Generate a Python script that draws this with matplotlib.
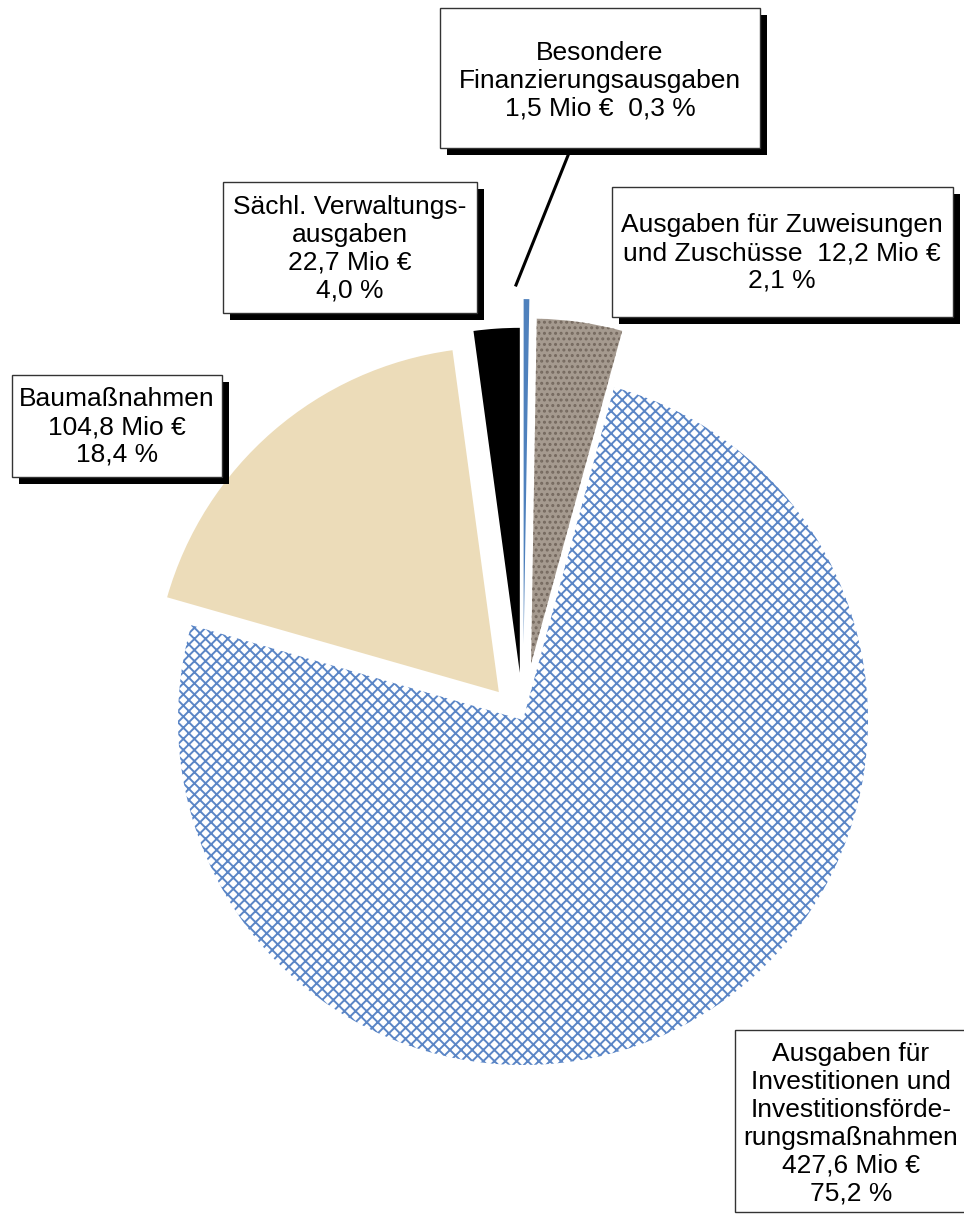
import matplotlib.pyplot as plt
from matplotlib.patches import Rectangle

plt.rcParams["font.family"] = ["Liberation Sans", "DejaVu Sans"]
plt.rcParams["hatch.linewidth"] = 1.4

W, H = 964, 1223
R = 345  # pie radius in pixels

# slices clockwise from 12 o'clock, as drawn in the picture
names = ["Besondere Finanzierungsausgaben", "Sächl. Verwaltungsausgaben",
         "Investitionen und Investitionsförderungsmaßnahmen", "Baumaßnahmen",
         "Zuweisungen und Zuschüsse"]
values = [1.5, 22.7, 427.6, 104.8, 12.2]
explode = [0.22, 0.165, 0.0, 0.107, 0.137]  # fraction of radius
colors = ["#4f81bd", "#a59a8f", "white", "#ecdcb9", "black"]
hatches = [None, "...", "xxx", None, None]
hatch_cols = ["#4f81bd", "#75695f", "#5b86c6", "#ecdcb9", "black"]

# label boxes: text, box (x0, y0, x1, y1) in pixels, text centre
box_texts = [
    "Besondere\nFinanzierungsausgaben\n1,5 Mio €  0,3 %",
    "Sächl. Verwaltungs-\nausgaben\n22,7 Mio €\n4,0 %",
    "Ausgaben für Zuweisungen\nund Zuschüsse  12,2 Mio €\n2,1 %",
    "Baumaßnahmen\n104,8 Mio €\n18,4 %",
    "Ausgaben für\nInvestitionen und\nInvestitionsförde-\nrungsmaßnahmen\n427,6 Mio €\n75,2 %",
]
box_pos = [(440, 8, 760, 148), (223, 182, 477, 313), (612, 187, 953, 317),
           (12, 375, 222, 477), (735, 1030, 970, 1212)]
text_pos = [(600, 81), (350, 249), (782, 253), (117, 427), (851, 1124)]
has_shadow = [True, True, True, True, False]

fig = plt.figure(figsize=(W / 100, H / 100), dpi=100)
ax = fig.add_axes([0, 0, 1, 1])

# y is inverted below, so startangle=-90 + counterclock gives clockwise from the top
wedges, _ = ax.pie(values, explode=[e * R for e in explode], colors=colors,
                   startangle=-90, counterclock=True, radius=R,
                   center=(523, 720), frame=True,
                   wedgeprops=dict(linewidth=0))
for w, h, hc in zip(wedges, hatches, hatch_cols):
    if h:
        w.set_hatch(h)
        w.set_edgecolor(hc)
        w.set_linewidth(0)

ax.set_xlim(0, W)
ax.set_ylim(H, 0)  # pixel coords, y down
ax.set_aspect("equal")
ax.axis("off")

for txt, (x0, y0, x1, y1), (tx, ty), sh in zip(box_texts, box_pos, text_pos, has_shadow):
    if sh:
        ax.add_patch(Rectangle((x0 + 7, y0 + 7), x1 - x0, y1 - y0,
                               facecolor="black", edgecolor="none", zorder=3))
    ax.add_patch(Rectangle((x0, y0), x1 - x0, y1 - y0, facecolor="white",
                           edgecolor="#333333", lw=1, zorder=4))
    ax.text(tx, ty, txt, ha="center", va="center", fontsize=19,
            linespacing=1.2, zorder=5)

# leader line to the thin slice
ax.plot([575, 516], [138, 285], color="black", lw=2.2, zorder=2)

fig.savefig("out.png", dpi=100)
